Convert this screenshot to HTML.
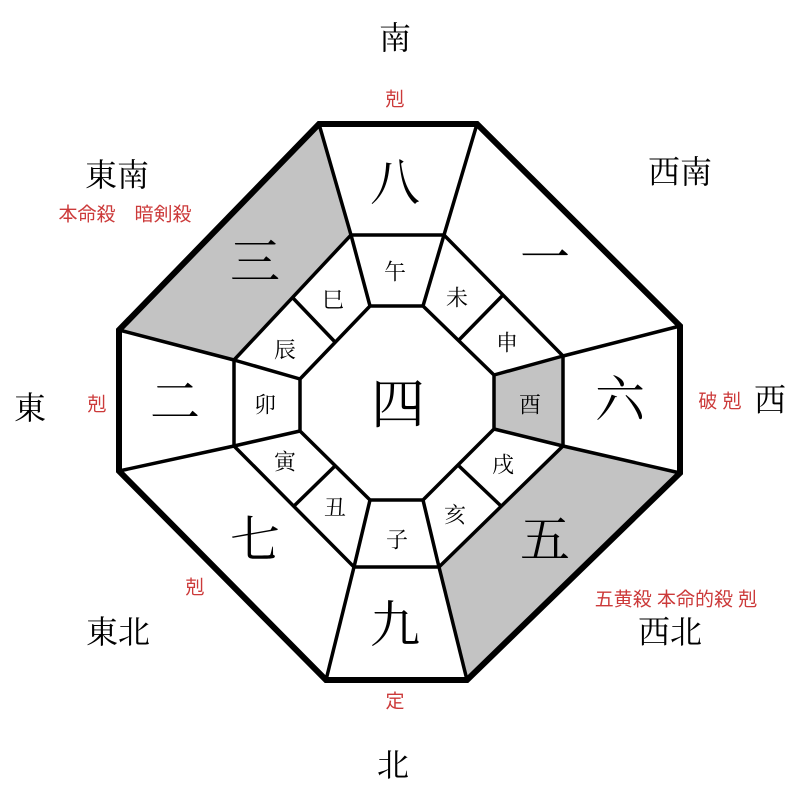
<!DOCTYPE html>
<html><head><meta charset="utf-8"><style>body{margin:0;background:#fff}svg{display:block}</style></head><body>
<svg width="800" height="800" viewBox="0 0 800 800" xmlns="http://www.w3.org/2000/svg" font-family="'Liberation Serif','Noto Serif CJK SC','Noto Sans CJK JP',serif" text-anchor="middle" dominant-baseline="central">
<rect width="800" height="800" fill="#fff"/>
<polygon points="319,124 351,235 234,360 119,330" fill="#c3c3c3"/>
<polygon points="563,446 680,473 467,680 439,567" fill="#c3c3c3"/>
<polygon points="563,356 563,446 494,429 494,375" fill="#c3c3c3"/>
<g stroke="#000" fill="none" stroke-width="3.5" stroke-linejoin="miter">
<polygon points="351,235 444,235 563,356 563,446 439,567 354,567 234,446 234,360"/>
<polygon points="370,306 423,306 494,375 494,429 423,500 370,500 300,431 300,379"/>
<line x1="319" y1="124" x2="351" y2="235"/><line x1="477" y1="124" x2="444" y2="235"/>
<line x1="680" y1="326" x2="563" y2="356"/><line x1="680" y1="473" x2="563" y2="446"/>
<line x1="467" y1="680" x2="439" y2="567"/><line x1="326" y1="680" x2="354" y2="567"/>
<line x1="119" y1="471" x2="234" y2="446"/><line x1="119" y1="330" x2="234" y2="360"/>
<line x1="351" y1="235" x2="370" y2="306"/><line x1="444" y1="235" x2="423" y2="306"/>
<line x1="563" y1="356" x2="494" y2="375"/><line x1="563" y1="446" x2="494" y2="429"/>
<line x1="439" y1="567" x2="423" y2="500"/><line x1="354" y1="567" x2="370" y2="500"/>
<line x1="234" y1="446" x2="300" y2="431"/><line x1="234" y1="360" x2="300" y2="379"/>
<line x1="292" y1="297" x2="335" y2="342"/><line x1="503" y1="295" x2="459" y2="340"/>
<line x1="501" y1="506" x2="459" y2="466"/><line x1="294" y1="506" x2="335" y2="466"/>
</g>
<polygon points="319,124 477,124 680,326 680,473 467,680 326,680 119,471 119,330" stroke="#000" fill="none" stroke-width="6"/>
<g font-size="32" fill="#000">
<text x="395" y="38">南</text><text x="117" y="175">東南</text><text x="680" y="172">西南</text>
<text x="30" y="408">東</text><text x="770" y="400">西</text><text x="118" y="632">東北</text>
<text x="670" y="632">西北</text><text x="393" y="765">北</text>
</g>
<g font-size="19" fill="#cc3a3a" font-family="'Liberation Sans','Noto Sans CJK JP',sans-serif">
<text x="395" y="100">剋</text><text x="125" y="215">本命殺　暗剣殺</text>
<text x="97" y="405">剋</text><text x="720" y="402">破 剋</text><text x="195" y="588">剋</text>
<text x="676" y="600">五黄殺 本命的殺 剋</text><text x="395" y="702">定</text>
</g>
<g font-size="50" fill="#000">
<text x="395" y="183">八</text><text x="545" y="258">一</text><text x="620" y="400">六</text>
<text x="545" y="540">五</text><text x="395" y="625">九</text><text x="255" y="540">七</text>
<text x="175" y="402">二</text><text x="255" y="262">三</text><text x="398" y="405" font-size="54">四</text>
</g>
<g font-size="22" fill="#000">
<text x="395" y="272">午</text><text x="457" y="298">未</text><text x="507" y="343">申</text>
<text x="530" y="405">酉</text><text x="503" y="465">戌</text><text x="455" y="515">亥</text>
<text x="397" y="540">子</text><text x="335" y="508">丑</text><text x="285" y="462">寅</text>
<text x="265" y="405">卯</text><text x="285" y="350">辰</text><text x="333" y="300">巳</text>
</g>
</svg>
</body></html>
